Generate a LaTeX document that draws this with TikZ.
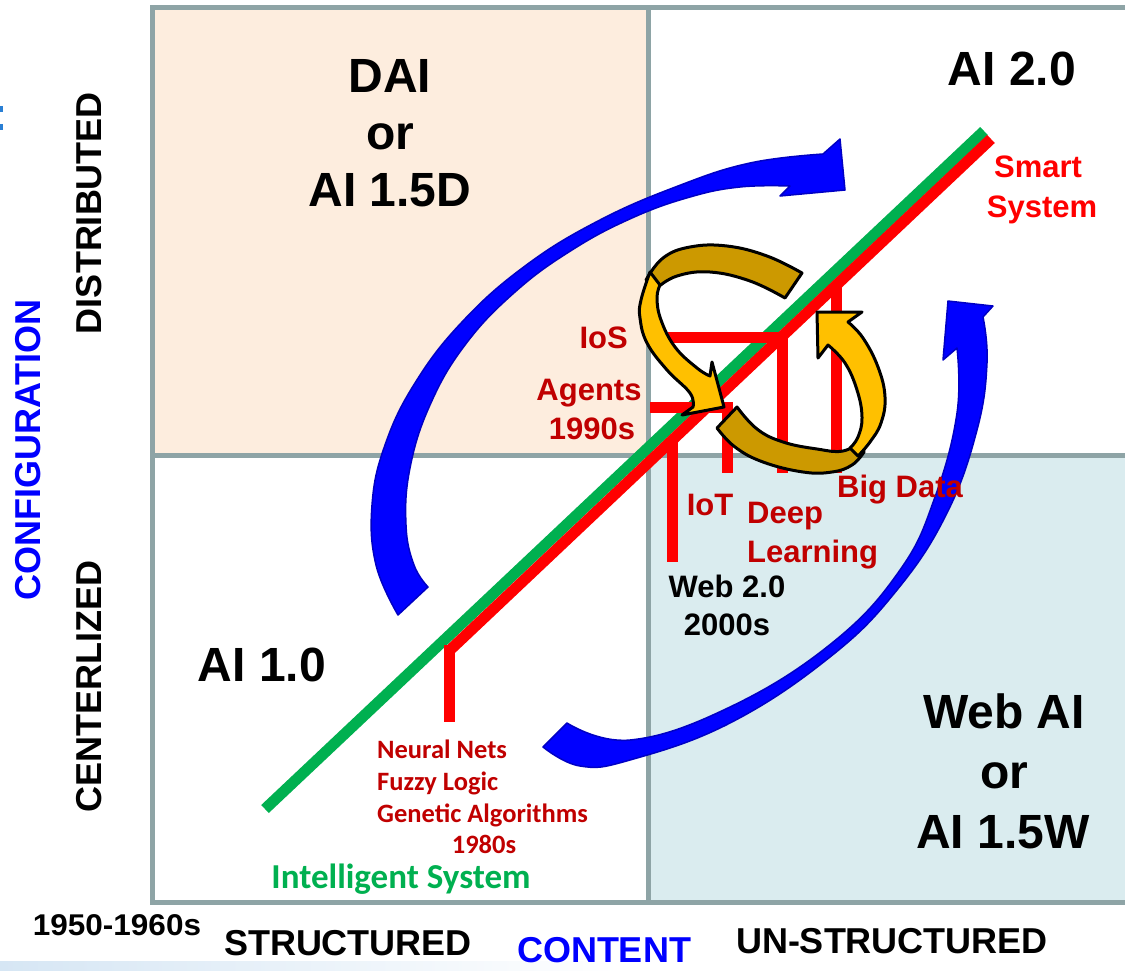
\documentclass[tikz,border=0pt]{standalone}
\usepackage{fontspec}
\setmainfont{Liberation Sans}
\newfontfamily\calibfont{Carlito}
\newfontfamily\widefont[FakeStretch=1.05]{Liberation Sans}
\usetikzlibrary{calc}

\definecolor{gridgray}{HTML}{8EA4A6}
\definecolor{peach}{HTML}{FDEDDE}
\definecolor{paleblue}{HTML}{DAECEF}
\definecolor{sysgreen}{HTML}{00B050}
\definecolor{darkred}{HTML}{C00000}
\definecolor{arrowblue}{HTML}{0000FF}
\definecolor{arrowedge}{HTML}{0000C4}
\definecolor{goldfront}{HTML}{FFC000}
\definecolor{goldback}{HTML}{CC9900}
\definecolor{markblue}{HTML}{2A7FD4}
\definecolor{bandblue}{HTML}{D6E6F4}

\begin{document}
\begin{tikzpicture}[x=1pt,y=-1pt,
  gridline/.style={draw=gridgray, line width=5pt},
  bigtext/.style={font=\fontsize{48}{56}\selectfont\bfseries, inner sep=0pt, anchor=base},
  axistext/.style={font=\fontsize{36}{40}\selectfont\bfseries, inner sep=0pt},
  eralabel/.style={text=darkred, font=\fontsize{31}{37}\selectfont\bfseries, inner sep=0pt},
  techlabel/.style={text=darkred, font=\calibfont\fontsize{26.5}{32}\selectfont\bfseries, inner sep=0pt, anchor=base west},
  redbar/.style={draw=red, line width=11pt},
  blockarrow/.style={fill=arrowblue, draw=arrowedge, line width=1.5pt, line join=round},
  ribbonfront/.style={fill=goldfront, draw=black, line width=3pt, line join=round},
  ribbonback/.style={fill=goldback, draw=black, line width=3pt, line join=round},
]
\useasboundingbox (0,0) rectangle (1125,970);

% quadrant fills
\fill[peach] (152,7) rectangle (648,455);
\fill[paleblue] (648,455) rectangle (1130,902);
\shade[left color=bandblue, right color=white] (0,961) rectangle (620,970);
\fill[markblue] (0,106) rectangle (3,112);
\fill[markblue] (0,124) rectangle (3,130);

% grid
\draw[gridline] (1130,7) -- (152,7) -- (152,902) -- (1130,902);
\draw[gridline] (648,7) -- (648,902);
\draw[gridline] (152,455) -- (1130,455);

% main diagonals
\coordinate (g0) at (265,809);
\coordinate (g1) at (984,131);
\coordinate (r0) at (449,651);
\coordinate (r1) at (991,139);
\draw[draw=sysgreen, line width=11pt] (g0) -- (g1);
\draw[redbar] (r0) -- (r1);

% milestone bars
\draw[redbar] (449,645) -- (449,722);
\draw[redbar] (672,440) -- (672,562);
\draw[redbar] (650,407) -- (733,407);
\draw[redbar] (727,402) -- (727,473);
\draw[redbar] (668,337) -- (788,337);
\draw[redbar] (782,332) -- (782,473);
\draw[redbar] (836,283) -- (836,473);

% blue cycle arrows
\filldraw[blockarrow] plot[smooth,tension=0.7] coordinates {(398,615) (376,565) (372,505) (385,445) (415,383) (462,322) (525,266) (598,221) (678,186) (750,163) (823,154)}
  -- (840,139) -- (845,190) -- (780,196)
  -- plot[smooth,tension=0.7] coordinates {(790,186) (740,187) (690,197) (632,218) (572,250) (515,292) (465,345) (430,405) (410,468) (406,525) (414,565) (428,587)} -- cycle;
\filldraw[blockarrow] plot[smooth,tension=0.7] coordinates {(543,747) (580,766) (630,760) (730,723) (830,657) (897,590) (947,513) (977,430) (987,363) (983,317)}
  -- (993,306) -- (948,301) -- (943,360)
  -- plot[smooth,tension=0.7] coordinates {(957,348) (957,413) (935,497) (900,570) (832,643) (730,707) (630,740) (567,723)} -- cycle;

% gold cycle arrows
\filldraw[ribbonback] plot[smooth,tension=0.7] coordinates {(802,273) (767,256) (727,246) (690,247) (663,258) (646,280)}
  -- plot[smooth,tension=0.7] coordinates {(657,288) (677,276) (710,272) (750,281) (785,298)} -- cycle;
\filldraw[ribbonback] plot[smooth,tension=0.7] coordinates {(717,428) (735,447) (763,462) (803,472) (832,472) (852,465) (864,452)}
  -- plot[smooth,tension=0.7] coordinates {(862,441) (843,451) (817,449) (783,442) (757,429) (737,407)} -- cycle;
\filldraw[ribbonfront] plot[smooth,tension=0.7] coordinates {(650,272) (641,300) (640,318) (647,343) (667,370) (690,393) (693,407)}
  -- (682,415) -- (724,407) -- (712,362)
  -- plot[smooth,tension=0.7] coordinates {(710,376) (697,368) (675,347) (661,320) (657,298) (660,285)} -- cycle;
\filldraw[ribbonfront] plot[smooth,tension=0.7] coordinates {(858,456) (870,442) (881,423) (885,397) (878,367) (863,338) (848,322)}
  -- (862,312) -- (817,312) -- (818,358)
  -- plot[smooth,tension=0.7] coordinates {(828,345) (845,363) (857,390) (862,417) (858,437) (850,448)} -- cycle;

% quadrant titles
\node[bigtext] (dai) at (390,92) {DAI};
\node[bigtext] (daior) at (390,149) {or};
\node[bigtext] (dai15) at (390,206) {AI 1.5D};
\node[bigtext] (ai20) at (1012,85) {AI 2.0};
\node[bigtext] (ai10) at (262,681) {AI 1.0};
\node[bigtext] (webai) at (1004,728) {Web AI};
\node[bigtext] (webor) at (1004,788) {or};
\node[bigtext] (web15) at (1003,848) {AI 1.5W};

% axes
\node[axistext, rotate=90] (distributed) at (89,213) {DISTRIBUTED};
\node[axistext, rotate=90] (centralized) at (89,686) {CENTERLIZED};
\node[axistext, rotate=90, text=blue] (configuration) at (28,450) {CONFIGURATION};
\node[inner sep=0pt, font=\widefont\fontsize{30}{34}\selectfont\bfseries] (years) at (117,925) {1950-1960s};
\node[axistext] (structured) at (348,943) {STRUCTURED};
\node[axistext, text=blue] (content) at (604,950) {CONTENT};
\node[axistext] (unstructured) at (892,941) {UN-STRUCTURED};

% milestone labels
\node[eralabel, anchor=base east] (ios) at (628,348) {IoS};
\node[eralabel, anchor=base] (agents) at (589,400) {Agents};
\node[eralabel, anchor=base] (nineties) at (592,439) {1990s};
\node[eralabel, anchor=base] (iot) at (710,515) {IoT};
\node[eralabel, anchor=base west] (deep) at (747,523) {Deep};
\node[eralabel, anchor=base west] (learning) at (747,562) {Learning};
\node[eralabel, anchor=base west] (bigdata) at (837,497) {Big Data};
\node[eralabel, anchor=base, text=black] (web20) at (727,597) {Web 2.0};
\node[eralabel, anchor=base, text=black] (twothousands) at (727,635) {2000s};
\node[eralabel, anchor=base, text=red] (smart) at (1038,177) {Smart};
\node[eralabel, anchor=base, text=red] (system) at (1042,217) {System};

\node[techlabel] (neural) at (377,758) {Neural Nets};
\node[techlabel] (fuzzy) at (377,790) {Fuzzy Logic};
\node[techlabel] (genetic) at (377,822) {Genetic Algorithms};
\node[techlabel, anchor=base] (eighties) at (484,853) {1980s};
\node[text=sysgreen, font=\calibfont\fontsize{35}{40}\selectfont\bfseries, inner sep=0pt, anchor=base] (intelligent) at (401,888) {Intelligent System};
\end{tikzpicture}
\end{document}
